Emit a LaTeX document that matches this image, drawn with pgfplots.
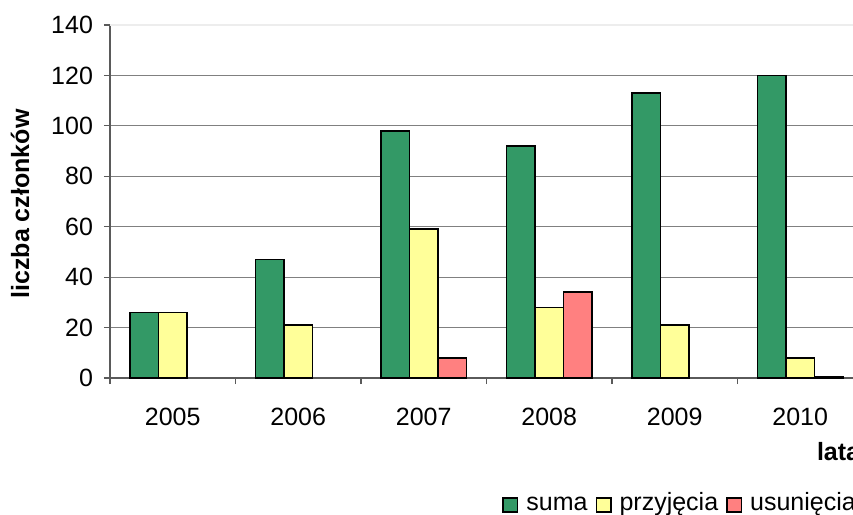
\documentclass[border=0pt]{standalone}
\usepackage{fontspec}
\setmainfont{Liberation Sans}
\usepackage{pgfplots}
\pgfplotsset{compat=1.18}
\definecolor{cgreen}{HTML}{339966}
\definecolor{cyellow}{HTML}{FFFF99}
\definecolor{cred}{HTML}{FF8080}
\definecolor{cgrid}{HTML}{808080}
\newcommand\cfont{\fontsize{12.5}{15}\selectfont}
\begin{document}
\begin{tikzpicture}
\useasboundingbox (0,0) rectangle (426.5pt,257.5pt);
\clip (0,0) rectangle (426.5pt,257.5pt);
\begin{axis}[
  at={(55pt,68.5pt)}, anchor=south west,
  scale only axis, width=376.5pt, height=176.5pt,
  font=\cfont,
  ybar=0pt, bar width=14.25pt,
  clip=false,
  xmin=-0.5, xmax=5.5, ymin=0, ymax=140,
  axis lines*=left,
  axis line style={cgrid!70!black, line width=0.6pt},
  tick align=outside, major tick length=3pt,
  tick style={cgrid!70!black, line width=0.6pt},
  xtick={-0.5,0.5,1.5,2.5,3.5,4.5,5.5},
  xticklabels={},
  extra x ticks={0,1,2,3,4,5},
  extra x tick labels={2005,2006,2007,2008,2009,2010},
  extra x tick style={tick style={draw=none}, grid=none},
  xticklabel style={font=\cfont, yshift=-8.5pt},
  ytick={0,20,...,120},
  extra y ticks={140},
  extra y tick style={grid style={color=black!7, line width=0.6pt}},
  yticklabel style={font=\cfont, xshift=-2pt},
  /pgf/number format/assume math mode=true,
  ymajorgrids,
  grid style={cgrid, line width=0.6pt},
  ylabel={liczba członków},
  ylabel style={at={(axis description cs:-0.1195,0.493)}, anchor=center, font=\cfont\bfseries},
  xlabel={lata},
  xlabel style={at={(axis description cs:0.9296,-0.2096)}, anchor=west, font=\cfont\bfseries},
  legend columns=-1,
  legend style={at={(axis description cs:0.5206,-0.3598)}, anchor=west, draw=none, fill=none, inner sep=0pt, font=\cfont,
    nodes={inner sep=0pt, inner xsep=4pt, text height=0.75em, text depth=0.23em},
    /tikz/every even column/.append style={column sep=0pt}},
  legend image code/.code={\draw[#1] (0pt,-3.6pt) rectangle (7.2pt,3.6pt);},
]
\addplot[fill=cgreen, draw=black, line width=0.8pt] coordinates {(0,26) (1,47) (2,98) (3,92) (4,113) (5,120)};
\addplot[fill=cyellow, draw=black, line width=0.8pt] coordinates {(0,26) (1,21) (2,59) (3,28) (4,21) (5,8)};
\addplot[fill=cred, draw=black, line width=0.8pt] coordinates {(2,8) (3,34) (5,0.5)};
\legend{suma, przyjęcia, usunięcia}
\end{axis}
\end{tikzpicture}
\end{document}
